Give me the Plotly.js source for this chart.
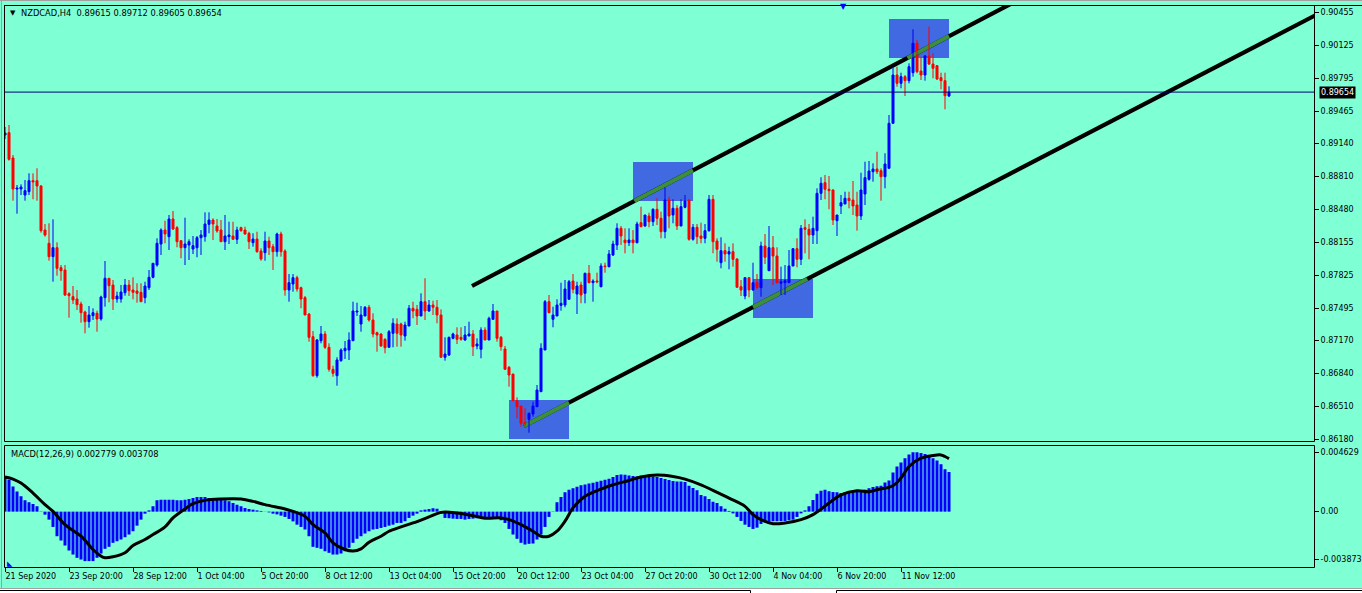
<!DOCTYPE html>
<html><head><meta charset="utf-8">
<script src="https://cdn.plot.ly/plotly-3.0.1.min.js"></script>
<style>html,body{margin:0;padding:0;background:#7fffd4;overflow:hidden}</style>
</head><body><div id="chart" style="width:1362px;height:593px"></div>
<script>
// ---------------- DATA ----------------
const symbol = 'NZDCAD,H4';
const open = [
0.89225,0.89248,0.88995,0.88685,0.88685,0.88625,0.88658,0.88768,0.88768,0.88715,
0.88275,0.88142,0.88008,0.88098,0.87898,0.87875,0.87638,0.87608,0.87585,0.87535,
0.87455,0.87358,0.87418,0.87442,0.87385,0.87598,0.87792,0.87725,0.87585,0.87585,
0.87648,0.87725,0.87675,0.87665,0.87652,0.87598,0.87698,0.87802,0.87925,0.88135,
0.88275,0.88208,0.88385,0.88298,0.88168,0.88098,0.88125,0.88085,0.88098,0.88198,
0.88208,0.88332,0.88375,0.88315,0.88275,0.88158,0.88208,0.88215,0.88182,0.88298,
0.88275,0.88242,0.88148,0.88185,0.88065,0.88048,0.88165,0.88108,0.88058,0.88235,
0.88065,0.87675,0.87735,0.87798,0.87698,0.87598,0.87435,0.87208,0.86818,0.87168,
0.87235,0.87102,0.86882,0.86818,0.86968,0.87068,0.87075,0.87168,0.87455,0.87335,
0.87415,0.87502,0.87375,0.87248,0.87235,0.87182,0.87102,0.87242,0.87335,0.87335,
0.87215,0.87315,0.87492,0.87482,0.87415,0.87558,0.87465,0.87525,0.87502,0.87425,
0.87002,0.87025,0.87192,0.87225,0.87202,0.87175,0.87215,0.87235,0.87115,0.87082,
0.87275,0.87175,0.87382,0.87465,0.87202,0.87085,0.86902,0.86835,0.86568,0.86515,
0.86348,0.86382,0.86435,0.86508,0.86658,0.87075,0.87558,0.87382,0.87415,0.87522,
0.87525,0.87582,0.87765,0.87635,0.87725,0.87642,0.87842,0.87748,0.87765,0.87708,
0.87915,0.87908,0.88025,0.88125,0.88292,0.88175,0.88148,0.88175,0.88148,0.88348,
0.88315,0.88415,0.88358,0.88482,0.88392,0.88258,0.88575,0.88425,0.88492,0.88315,
0.88502,0.88575,0.88182,0.88302,0.88215,0.88192,0.88268,0.88582,0.88165,0.87948,
0.88068,0.88035,0.88058,0.87985,0.87708,0.87615,0.87798,0.87675,0.87748,0.87698,
0.88115,0.87868,0.88098,0.88015,0.87742,0.87748,0.87748,0.87915,0.88088,0.87982,
0.88298,0.88282,0.88225,0.88268,0.88642,0.88748,0.88682,0.88675,0.88368,0.88515,
0.88535,0.88592,0.88575,0.88525,0.88415,0.88635,0.88782,0.88858,0.88885,0.88868,
0.88808,0.88892,0.89342,0.89825,0.89742,0.89808,0.89768,0.89848,0.90142,0.89865,
0.89825,0.90015,0.89935,0.89918,0.89798,0.89768,0.89615];
const high = [
0.89305,0.89325,0.89025,0.88725,0.88732,0.88775,0.88842,0.88842,0.88892,0.88725,
0.88335,0.88342,0.88382,0.88152,0.87925,0.87925,0.87652,0.87715,0.87675,0.87558,
0.87468,0.87515,0.87492,0.87468,0.87618,0.87965,0.87792,0.87775,0.87658,0.87725,
0.87785,0.87775,0.87802,0.87742,0.87742,0.87758,0.87875,0.87942,0.88192,0.88292,
0.88368,0.88425,0.88465,0.88315,0.88175,0.88398,0.88182,0.88215,0.88215,0.88275,
0.88452,0.88452,0.88392,0.88385,0.88375,0.88425,0.88358,0.88358,0.88308,0.88308,
0.88308,0.88258,0.88242,0.88258,0.88092,0.88258,0.88208,0.88135,0.88248,0.88258,
0.88082,0.87835,0.87835,0.87818,0.87708,0.87615,0.87442,0.87265,0.87185,0.87315,
0.87265,0.87142,0.86918,0.87002,0.87092,0.87165,0.87252,0.87558,0.87548,0.87515,
0.87515,0.87525,0.87442,0.87258,0.87242,0.87192,0.87275,0.87392,0.87392,0.87348,
0.87358,0.87525,0.87558,0.87525,0.87642,0.87792,0.87575,0.87568,0.87575,0.87482,
0.87202,0.87208,0.87248,0.87302,0.87302,0.87315,0.87358,0.87275,0.87192,0.87302,
0.87302,0.87408,0.87535,0.87465,0.87215,0.87115,0.86915,0.86835,0.86602,0.86515,
0.86492,0.86448,0.86558,0.86725,0.87142,0.87575,0.87625,0.87508,0.87582,0.87748,
0.87775,0.87775,0.87835,0.87758,0.87758,0.87848,0.87925,0.87782,0.87848,0.87942,
0.87948,0.88075,0.88168,0.88342,0.88315,0.88292,0.88292,0.88275,0.88358,0.88508,
0.88425,0.88448,0.88492,0.88592,0.88458,0.88702,0.88608,0.88582,0.88525,0.88582,
0.88625,0.88582,0.88335,0.88335,0.88348,0.88335,0.88625,0.88625,0.88192,0.88202,
0.88142,0.88108,0.88142,0.87992,0.87775,0.87802,0.87802,0.87948,0.87835,0.88158,
0.88235,0.88315,0.88215,0.88102,0.87908,0.87925,0.88075,0.88092,0.88192,0.88325,
0.88382,0.88335,0.88408,0.88692,0.88802,0.88825,0.88815,0.88682,0.88425,0.88625,
0.88658,0.88658,0.88765,0.88658,0.88848,0.88958,0.88965,0.88942,0.89058,0.88892,
0.89042,0.89425,0.89908,0.89908,0.89848,0.89825,0.89942,0.90282,0.90175,0.90008,
0.90025,0.90308,0.90042,0.89925,0.89848,0.89848,0.89712];
const low = [
0.89185,0.88968,0.88568,0.88438,0.88625,0.88568,0.88625,0.88582,0.88568,0.88248,
0.88208,0.87968,0.87758,0.87818,0.87768,0.87615,0.87398,0.87535,0.87475,0.87348,
0.87242,0.87298,0.87375,0.87258,0.87368,0.87508,0.87552,0.87475,0.87548,0.87548,
0.87618,0.87615,0.87582,0.87548,0.87558,0.87542,0.87675,0.87792,0.87908,0.88025,
0.88142,0.88075,0.88275,0.88102,0.87992,0.87925,0.87975,0.88035,0.88002,0.88025,
0.88158,0.88242,0.88175,0.88248,0.88158,0.88075,0.88135,0.88182,0.88135,0.88258,
0.88228,0.88085,0.88108,0.88048,0.87968,0.87968,0.88025,0.87875,0.88008,0.88008,
0.87618,0.87558,0.87658,0.87658,0.87492,0.87425,0.87158,0.86808,0.86798,0.87142,
0.87085,0.86858,0.86808,0.86718,0.86958,0.86985,0.86975,0.87168,0.87415,0.87258,
0.87415,0.87358,0.87202,0.87058,0.87108,0.87042,0.87102,0.87102,0.87108,0.87108,
0.87168,0.87315,0.87392,0.87325,0.87415,0.87375,0.87458,0.87425,0.87342,0.87002,
0.86968,0.87015,0.87182,0.87135,0.87168,0.87168,0.87215,0.87015,0.87082,0.86992,
0.87175,0.87175,0.87382,0.87158,0.87068,0.86882,0.86708,0.86568,0.86392,0.86308,
0.86318,0.86248,0.86408,0.86508,0.86658,0.87075,0.87442,0.87302,0.87415,0.87468,
0.87502,0.87582,0.87642,0.87435,0.87542,0.87542,0.87742,0.87558,0.87742,0.87702,
0.87848,0.87902,0.88015,0.88075,0.88125,0.88042,0.88115,0.88042,0.88142,0.88302,
0.88308,0.88302,0.88315,0.88325,0.88192,0.88192,0.88292,0.88342,0.88275,0.88315,
0.88492,0.88168,0.88168,0.88135,0.88142,0.88142,0.88258,0.88042,0.87958,0.87892,
0.87958,0.87882,0.87908,0.87702,0.87615,0.87582,0.87602,0.87668,0.87682,0.87608,
0.87935,0.87868,0.87725,0.87742,0.87625,0.87625,0.87748,0.87915,0.87902,0.87925,
0.88042,0.87982,0.88135,0.88135,0.88575,0.88582,0.88482,0.88325,0.88215,0.88435,
0.88535,0.88492,0.88425,0.88268,0.88375,0.88525,0.88768,0.88758,0.88835,0.88568,
0.88692,0.88892,0.89342,0.89708,0.89692,0.89615,0.89742,0.89808,0.89842,0.89775,
0.89768,0.89925,0.89792,0.89775,0.89682,0.89482,0.89605];
const close = [
0.89245,0.88982,0.88685,0.88695,0.88705,0.88668,0.88768,0.88755,0.88715,0.88268,
0.88225,0.88008,0.88098,0.87892,0.87868,0.87625,0.87618,0.87575,0.87528,0.87448,
0.87358,0.87425,0.87448,0.87385,0.87605,0.87792,0.87718,0.87585,0.87615,0.87655,
0.87725,0.87668,0.87652,0.87642,0.87558,0.87715,0.87802,0.87942,0.88142,0.88275,
0.88235,0.88385,0.88285,0.88158,0.88098,0.88135,0.88158,0.88118,0.88198,0.88225,
0.88335,0.88375,0.88335,0.88265,0.88158,0.88215,0.88225,0.88182,0.88275,0.88268,
0.88235,0.88158,0.88185,0.88058,0.87985,0.88165,0.88098,0.88058,0.88235,0.88058,
0.87675,0.87748,0.87798,0.87685,0.87585,0.87425,0.87202,0.86818,0.87175,0.87235,
0.87102,0.86882,0.86842,0.86975,0.87075,0.87092,0.87175,0.87465,0.87465,0.87425,
0.87502,0.87375,0.87235,0.87225,0.87115,0.87098,0.87258,0.87342,0.87242,0.87225,
0.87325,0.87492,0.87465,0.87415,0.87558,0.87465,0.87525,0.87502,0.87425,0.87002,
0.87035,0.87202,0.87235,0.87182,0.87182,0.87225,0.87235,0.87108,0.87135,0.87275,
0.87175,0.87392,0.87465,0.87192,0.87108,0.86882,0.86825,0.86568,0.86508,0.86342,
0.86318,0.86442,0.86515,0.86675,0.87092,0.87558,0.87448,0.87425,0.87525,0.87542,
0.87685,0.87758,0.87682,0.87715,0.87625,0.87842,0.87748,0.87765,0.87755,0.87915,
0.87908,0.88035,0.88135,0.88292,0.88215,0.88148,0.88175,0.88148,0.88335,0.88308,
0.88425,0.88358,0.88482,0.88392,0.88258,0.88575,0.88415,0.88492,0.88315,0.88508,
0.88565,0.88182,0.88302,0.88208,0.88192,0.88268,0.88582,0.88158,0.88082,0.88068,
0.88035,0.88058,0.87982,0.87702,0.87675,0.87798,0.87675,0.87748,0.87698,0.88115,
0.88002,0.88098,0.88015,0.87748,0.87758,0.87768,0.87915,0.88088,0.87982,0.88292,
0.88282,0.88225,0.88292,0.88642,0.88742,0.88682,0.88668,0.88375,0.88425,0.88548,
0.88592,0.88568,0.88515,0.88415,0.88675,0.88798,0.88865,0.88885,0.88858,0.88808,
0.88935,0.89342,0.89825,0.89742,0.89808,0.89768,0.89908,0.90142,0.89858,0.89825,
0.90015,0.89935,0.89892,0.89785,0.89768,0.89618,0.89654];

// MACD(12,26,9): main line (histogram) per bar, signal line read at chosen bars
const macdMain = [
0.00235,0.00223,0.00176,0.00141,0.00107,0.00079,0.00065,0.00054,0.00037,0.00002,
-0.00021,-0.00056,-0.00107,-0.00172,-0.00202,-0.00237,-0.00272,-0.00300,-0.00323,-0.00335,
-0.00346,-0.00346,-0.00346,-0.00323,-0.00293,-0.00260,-0.00246,-0.00218,-0.00207,-0.00195,
-0.00179,-0.00160,-0.00137,-0.00098,-0.00056,-0.00014,0.00009,0.00037,0.00079,0.00084,
0.00084,0.00084,0.00084,0.00079,0.00079,0.00084,0.00089,0.00095,0.00102,0.00102,
0.00102,0.00095,0.00089,0.00089,0.00084,0.00079,0.00072,0.00061,0.00049,0.00037,
0.00026,0.00019,0.00014,0.00009,0.00005,0.00001,-0.00005,-0.00014,-0.00019,-0.00028,
-0.00037,-0.00051,-0.00068,-0.00091,-0.00107,-0.00125,-0.00172,-0.00246,-0.00253,-0.00260,
-0.00277,-0.00288,-0.00300,-0.00300,-0.00293,-0.00277,-0.00253,-0.00218,-0.00190,-0.00172,
-0.00153,-0.00137,-0.00125,-0.00121,-0.00114,-0.00107,-0.00098,-0.00091,-0.00079,-0.00079,
-0.00067,-0.00044,-0.00028,-0.00014,0.00009,0.00014,0.00019,0.00023,0.00021,-0.00014,
-0.00044,-0.00046,-0.00049,-0.00051,-0.00051,-0.00056,-0.00051,-0.00049,-0.00046,-0.00046,
-0.00049,-0.00046,-0.00046,-0.00051,-0.00060,-0.00079,-0.00121,-0.00160,-0.00190,-0.00218,
-0.00230,-0.00225,-0.00223,-0.00195,-0.00160,-0.00107,-0.00037,0.00002,0.00065,0.00102,
0.00135,0.00153,0.00163,0.00174,0.00184,0.00190,0.00197,0.00202,0.00209,0.00216,
0.00223,0.00230,0.00242,0.00256,0.00260,0.00258,0.00253,0.00249,0.00246,0.00251,
0.00249,0.00246,0.00246,0.00242,0.00235,0.00228,0.00221,0.00214,0.00211,0.00211,
0.00207,0.00181,0.00165,0.00149,0.00116,0.00107,0.00088,0.00070,0.00060,0.00037,
0.00021,0.00005,-0.00012,-0.00037,-0.00065,-0.00091,-0.00107,-0.00121,-0.00112,-0.00086,
-0.00074,-0.00070,-0.00067,-0.00067,-0.00067,-0.00065,-0.00060,-0.00056,-0.00037,-0.00012,
0.00009,0.00037,0.00081,0.00125,0.00146,0.00153,0.00142,0.00137,0.00135,0.00130,
0.00135,0.00135,0.00139,0.00142,0.00149,0.00153,0.00163,0.00172,0.00177,0.00181,
0.00204,0.00218,0.00274,0.00316,0.00344,0.00374,0.00400,0.00416,0.00416,0.00411,
0.00404,0.00395,0.00374,0.00358,0.00332,0.00297,0.002779];
const signalBar = [0,2,4,7,10,12,15,19,22,24,25,27,30,32,35,37,40,42,45,47,50,54,59,62,65,70,72,75,77,80,82,85,87,89,91,94,96,99,102,106,109,113,117,120,124,126,129,132,134,136,138,140,142,145,149,152,156,159,163,167,170,174,177,181,185,187,189,192,195,199,202,206,209,213,216,218,222,224,226,229,232,234,235,236];
const signalVal = [0.00242,0.00228,0.00200,0.00130,0.00049,0.00002,-0.00091,-0.00172,-0.00265,-0.00311,-0.00323,-0.00316,-0.00288,-0.00237,-0.00195,-0.00160,-0.00107,-0.00044,0.00019,0.00056,0.00079,0.00088,0.00088,0.00072,0.00049,0.00019,0.00002,-0.00033,-0.00091,-0.00149,-0.00218,-0.00265,-0.00276,-0.00260,-0.00214,-0.00172,-0.00137,-0.00107,-0.00079,-0.00037,-0.00005,-0.00009,-0.00028,-0.00046,-0.00044,-0.00056,-0.00091,-0.00137,-0.00172,-0.00172,-0.00137,-0.00067,0.00026,0.00107,0.00158,0.00188,0.00218,0.00242,0.00256,0.00246,0.00228,0.00188,0.00149,0.00095,0.00037,-0.00021,-0.00056,-0.00084,-0.00079,-0.00056,-0.00021,0.00060,0.00118,0.00146,0.00139,0.00153,0.00181,0.00235,0.00316,0.00374,0.00393,0.00397,0.00386,0.003708];

// axis labels
const priceTicks = [0.90455,0.90125,0.89795,0.89465,0.89140,0.88810,0.88480,0.88155,0.87825,0.87495,0.87170,0.86840,0.86510,0.86180];
const dateTickBar = [0,16,32,48,64,80,96,112,128,144,160,176,192,208,224];
const dateTickText = ['21 Sep 2020','23 Sep 20:00','28 Sep 12:00','1 Oct 04:00','5 Oct 20:00','8 Oct 12:00','13 Oct 04:00','15 Oct 20:00','20 Oct 12:00','23 Oct 04:00','27 Oct 20:00','30 Oct 12:00','4 Nov 04:00','6 Nov 20:00','11 Nov 12:00'];
const macdMax = 0.004629, macdMin = -0.003873;

// drawn objects: rectangles and trend lines (bar index, price)
const rectFrom = [126,157,187,221];
const rectTo   = [141,172,202,236];
const rectLow  = [0.86185,0.88565,0.87395,0.89995];
const rectHigh = [0.86575,0.88955,0.87785,0.90385];
const lineBar0 = [116.75,129.75];
const linePx0  = [0.87715,0.86315];
const lineBar1 = [243.75,327.25];
const linePx1  = [0.90375,0.90415];

// ---------------- LAYOUT GEOMETRY ----------------
const W=1362, H=593, L=4, R=1314, T=6, B=567;
const mainBottomPx = 441.5, macdTopPx = 445.5;
const ppb = 4; // pixels per bar
const xMin = (L-5)/ppb, xMax = xMin + (R-L)/ppb;
const pxPerPrice = 10000, priceAtTop = 0.90515;
const yMax = priceAtTop, yMin = priceAtTop - (mainBottomPx - T)/pxPerPrice;
const px2x = p => (p-L)/(R-L);
const py2y = p => (B-p)/(B-T);

const n = open.length;
const bgc = '#7fffd4', upc = '#0000ff', dnc = '#ff0000';
const FONT = 'DejaVu Sans, Verdana, sans-serif';

// candles
const upX=[],upB=[],upH=[],dnX=[],dnB=[],dnH=[];
const wuX=[],wuY=[],wdX=[],wdY=[];
for (let i=0;i<n;i++){
  const up = close[i] >= open[i];
  const lo = Math.min(open[i],close[i]), hi = Math.max(open[i],close[i]);
  if (up){ upX.push(i); upB.push(lo); upH.push(hi-lo); wuX.push(i,i,null); wuY.push(low[i],high[i],null); }
  else   { dnX.push(i); dnB.push(lo); dnH.push(hi-lo); wdX.push(i,i,null); wdY.push(low[i],high[i],null); }
}
const traces = [];
// trend lines (rays) and their parts inside the rectangles
const trendX=[], trendY=[], greenX=[], greenY=[];
function clip(x0,y0,x1,y1,rx0,rx1,ry0,ry1){
  let t0=0,t1=1; const dx=x1-x0, dy=y1-y0;
  const p=[-dx,dx,-dy,dy], q=[x0-rx0,rx1-x0,y0-ry0,ry1-y0];
  for (let k=0;k<4;k++){
    if (p[k]===0){ if(q[k]<0) return null; }
    else { const r=q[k]/p[k]; if(p[k]<0){ if(r>t1) return null; if(r>t0) t0=r; } else { if(r<t0) return null; if(r<t1) t1=r; } }
  }
  return [x0+t0*dx,y0+t0*dy,x0+t1*dx,y0+t1*dy];
}
for (let k=0;k<lineBar0.length;k++){
  const slope = (linePx1[k]-linePx0[k])/(lineBar1[k]-lineBar0[k]);
  const xe = xMax + 5, ye = linePx0[k] + slope*(xe-lineBar0[k]);
  trendX.push(lineBar0[k], xe, null); trendY.push(linePx0[k], ye, null);
  for (let r=0;r<rectFrom.length;r++){
    const c = clip(lineBar0[k],linePx0[k],xe,ye,rectFrom[r],rectTo[r],rectLow[r],rectHigh[r]);
    if (c){ greenX.push(c[0],c[2],null); greenY.push(c[1],c[3],null); }
  }
}
traces.push({type:'scatter',mode:'lines',x:trendX,y:trendY,line:{color:'#000000',width:4.2},xaxis:'x',yaxis:'y',hoverinfo:'skip'});
traces.push({type:'scatter',mode:'lines',x:greenX,y:greenY,line:{color:'#3c8f3c',width:4.2},xaxis:'x',yaxis:'y',hoverinfo:'skip'});
traces.push({type:'scatter',mode:'lines',x:wuX,y:wuY,line:{color:upc,width:1},xaxis:'x',yaxis:'y',hoverinfo:'skip'});
traces.push({type:'scatter',mode:'lines',x:wdX,y:wdY,line:{color:dnc,width:1},xaxis:'x',yaxis:'y',hoverinfo:'skip'});
traces.push({type:'bar',x:upX,y:upH,base:upB,width:0.5,marker:{color:upc,line:{color:upc,width:1}},xaxis:'x',yaxis:'y',hoverinfo:'skip'});
traces.push({type:'bar',x:dnX,y:dnH,base:dnB,width:0.5,marker:{color:dnc,line:{color:dnc,width:1}},xaxis:'x',yaxis:'y',hoverinfo:'skip'});
// MACD
traces.push({type:'bar',x:[...Array(n).keys()],y:macdMain,width:0.75,marker:{color:upc,line:{width:0}},xaxis:'x2',yaxis:'y2',hoverinfo:'skip'});
traces.push({type:'scatter',mode:'lines',x:signalBar,y:signalVal,line:{color:'#000000',width:3,shape:'spline',smoothing:1},xaxis:'x2',yaxis:'y2',hoverinfo:'skip'});

const mainDom = [(B-mainBottomPx)/(B-T), 1];
const macdDom = [0, (B-macdTopPx)/(B-T)];
const macdPerPx = (macdMax-macdMin)/(B-macdTopPx);
const macdLabelPos = [macdMax-7*macdPerPx, 0, macdMin+8*macdPerPx];
const macdLabelText = [macdMax.toFixed(6), '0.00', macdMin.toFixed(6)];

const shapes = [];
for (let r=0;r<rectFrom.length;r++){
  shapes.push({type:'rect',xref:'x',yref:'y',x0:rectFrom[r],x1:rectTo[r],y0:rectLow[r],y1:rectHigh[r],fillcolor:'#4169e1',line:{width:0},layer:'below'});
}
const bid = close[n-1];
shapes.push({type:'line',xref:'paper',yref:'y',x0:0,x1:1,y0:bid,y1:bid,line:{color:'#00006e',width:1}});
// frames
const frame = (x0,y0,x1,y1,c,w)=>({type:'rect',xref:'paper',yref:'paper',x0:px2x(x0),x1:px2x(x1),y0:py2y(y0),y1:py2y(y1),line:{color:c,width:w||1},fillcolor:'rgba(0,0,0,0)'});
const hline = (x0,x1,y,c)=>({type:'line',xref:'paper',yref:'paper',x0:px2x(x0),x1:px2x(x1),y0:py2y(y),y1:py2y(y),line:{color:c,width:1}});
const vline = (x,y0,y1,c)=>({type:'line',xref:'paper',yref:'paper',x0:px2x(x),x1:px2x(x),y0:py2y(y0),y1:py2y(y1),line:{color:c,width:1}});
shapes.push(frame(4.5,5.5,1314.5,441.5,'#000000'));
shapes.push(frame(4.5,445.5,1314.5,567.5,'#000000'));
shapes.push(hline(4,1362,5.5,'#000000'));
shapes.push(hline(0,1362,0.5,'#a0a0a0'));
shapes.push(vline(1.5,0,589,'#a0a0a0'));
shapes.push({type:'rect',xref:'paper',yref:'paper',x0:px2x(-2),x1:px2x(1364),y0:py2y(589),y1:py2y(595),fillcolor:'#ffffff',line:{width:0}});
shapes.push(hline(0,1362,588.5,'#a0a0a0'));
shapes.push(hline(0,750.5,590.5,'#000000'));
shapes.push(vline(750.5,590.5,594,'#000000'));
shapes.push(hline(836.5,1362,590.5,'#000000'));
shapes.push(vline(836.5,590.5,594,'#000000'));

const annotations = [
  {xref:'paper',yref:'paper',x:px2x(8),y:py2y(13),xanchor:'left',yanchor:'middle',text:'▼',showarrow:false,font:{family:FONT,size:7,color:'#000'}},
  {xref:'paper',yref:'paper',x:px2x(19),y:py2y(13),xanchor:'left',yanchor:'middle',showarrow:false,
   text:symbol+'\u00a0\u00a0'+[open[n-1],high[n-1],low[n-1],close[n-1]].map(v=>v.toFixed(5)).join(' '),font:{family:FONT,size:8.3,color:'#000'}},
  {xref:'paper',yref:'paper',x:px2x(9),y:py2y(454),xanchor:'left',yanchor:'middle',showarrow:false,
   text:'MACD(12,26,9) '+macdMain[n-1].toFixed(6)+' '+signalVal[signalVal.length-1].toFixed(6),font:{family:FONT,size:8.3,color:'#000'}},
  {xref:'paper',yref:'y',x:px2x(1319),y:bid,xanchor:'left',yanchor:'middle',showarrow:false,text:bid.toFixed(5),
   bgcolor:'#000000',borderpad:1,font:{family:FONT,size:8,color:'#ffffff'}},
  {xref:'paper',yref:'paper',x:px2x(843),y:py2y(6),xanchor:'center',yanchor:'middle',showarrow:false,text:'▼',font:{family:FONT,size:8,color:'#0000ff'}},
  {xref:'paper',yref:'paper',x:px2x(5),y:py2y(564),xanchor:'left',yanchor:'middle',showarrow:false,text:'◣',font:{family:FONT,size:7,color:'#0000ff'}}
];

const axFont = {family:FONT,size:8,color:'#000'};
const layout = {
  width:W, height:H, margin:{l:L,r:W-R,t:T,b:H-B},
  paper_bgcolor:bgc, plot_bgcolor:bgc, showlegend:false, barmode:'overlay',
  xaxis:{domain:[0,1],range:[xMin,xMax],anchor:'y',showticklabels:false,ticks:'',showgrid:false,zeroline:false,showline:false,fixedrange:true},
  xaxis2:{domain:[0,1],range:[xMin,xMax],anchor:'y2',matches:'x',tickmode:'array',tickvals:dateTickBar,ticktext:dateTickText,
          ticks:'outside',ticklen:4,tickcolor:'#000',tickwidth:1,ticklabelposition:'outside right',ticklabelstandoff:1,tickfont:axFont,showgrid:false,zeroline:false,showline:false},
  yaxis:{domain:mainDom,range:[yMin,yMax],side:'right',anchor:'x',tickmode:'array',tickvals:priceTicks,ticktext:priceTicks.map(v=>v.toFixed(5)),
         ticks:'outside',ticklen:4,tickcolor:'#000',tickfont:axFont,showgrid:false,zeroline:false,showline:false},
  yaxis2:{domain:macdDom,range:[macdMin,macdMax],side:'right',anchor:'x2',tickmode:'array',tickvals:macdLabelPos,ticktext:macdLabelText,
          ticks:'outside',ticklen:4,tickcolor:'#000',tickfont:axFont,showgrid:false,zeroline:false,showline:false},
  shapes, annotations
};
Plotly.newPlot('chart', traces, layout, {staticPlot:true, displayModeBar:false});
</script></body></html>
